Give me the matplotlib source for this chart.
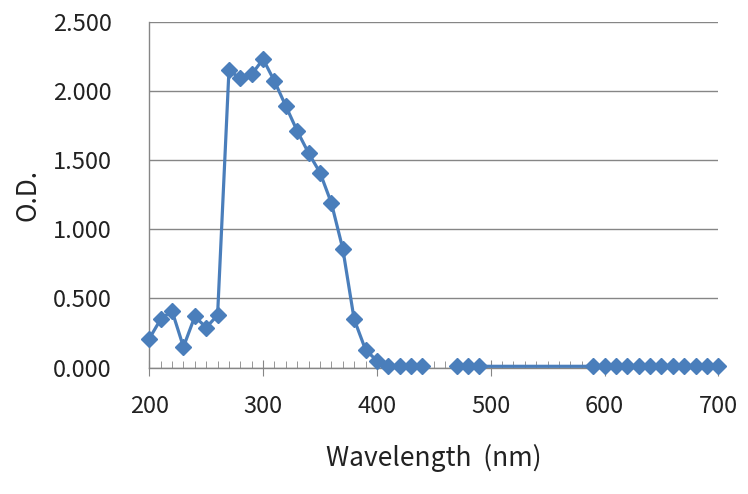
import matplotlib.pyplot as plt
import numpy as np

# wavelength (nm) and optical density
wavelength = [200, 210, 220, 230, 240, 250, 260, 270, 280, 290, 300,
              310, 320, 330, 340, 350, 360, 370, 380, 390, 400,
              410, 420, 430, 440, 450, 460, 470, 480, 490,
              590, 600, 610, 620, 630, 640, 650, 660, 670, 680, 690, 700]
od = [0.21, 0.35, 0.41, 0.15, 0.37, 0.29, 0.38, 2.15, 2.09, 2.12, 2.23,
      2.07, 1.89, 1.71, 1.55, 1.41, 1.19, 0.86, 0.35, 0.13, 0.05,
      0.01, 0.01, 0.01, 0.01, np.nan, np.nan, 0.01, 0.01, 0.01,
      0.01, 0.01, 0.01, 0.01, 0.01, 0.01, 0.01, 0.01, 0.01, 0.01, 0.01, 0.01]

yticks = [0, 0.5, 1.0, 1.5, 2.0, 2.5]
xticks = [200, 300, 400, 500, 600, 700]

blue = '#4a7ebb'
gray = '#868686'
txt = '#222222'

plt.rcParams['font.family'] = ['Noto Sans CJK KR', 'DejaVu Sans']

fig = plt.figure(figsize=(7.48, 4.94), dpi=100)
ax = fig.add_axes([0.1996, 0.2557, 0.7607, 0.7003])

ax.plot(wavelength, od, color=blue, lw=2.3, marker='D', markersize=8,
        markeredgecolor=blue, clip_on=False, zorder=3)

ax.set_xlim(200, 700)
ax.set_ylim(0, 2.5)
ax.set_xticks(xticks)
ax.set_xticks(np.arange(200, 701, 10), minor=True)
ax.set_yticks(yticks)
ax.set_yticklabels(['%.3f' % v for v in yticks])

ax.grid(axis='y', color=gray, lw=1)
ax.set_axisbelow(True)
for s in ['top', 'right']:
    ax.spines[s].set_visible(False)
for s in ['left', 'bottom']:
    ax.spines[s].set_color(gray)
    ax.spines[s].set_linewidth(1)

ax.tick_params(axis='y', length=0, pad=27, labelsize=17, labelcolor=txt)
ax.tick_params(axis='x', which='major', direction='inout', length=11,
               color=gray, pad=14, labelsize=17, labelcolor=txt)
ax.tick_params(axis='x', which='minor', direction='in', length=5, color=gray)

ax.set_xlabel('Wavelength  (nm)', fontsize=19, color=txt, labelpad=19)
ax.set_ylabel('O.D.', fontsize=19, color=txt, labelpad=8)

fig.savefig('out.png', dpi=100)
